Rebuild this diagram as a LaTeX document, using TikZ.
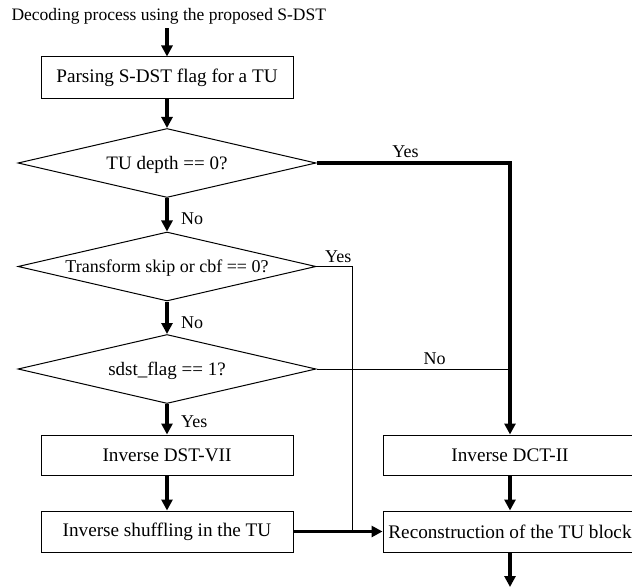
\documentclass[tikz,border=0pt]{standalone}
\usepackage{fontspec}
\setmainfont{Liberation Serif}
\usetikzlibrary{shapes.geometric,arrows.meta}
\begin{document}
\begin{tikzpicture}[x=1pt,y=-1pt,
  every node/.style={font=\fontsize{18}{21}\selectfont},
  procbox/.style={draw, line width=1pt, minimum width=252pt, inner sep=0pt, font=\fontsize{19.2}{22}\selectfont},
  decbox/.style={draw, diamond, aspect=4.3, minimum width=298pt, minimum height=69pt, inner sep=0pt, line width=1pt, text depth=0pt, font=\fontsize{19}{22}\selectfont},
  thk/.style={line width=3.5pt, -{Triangle[length=11pt,width=11pt]}},
  thn/.style={line width=1pt},
  lbl/.style={inner sep=3.33pt}
]
\useasboundingbox (0,0) rectangle (632,588);

\node[anchor=base west, font=\fontsize{17.5}{21}\selectfont] (title) at (8,21) {Decoding process using the proposed S-DST};
\node[procbox, minimum height=42pt] (p1) at (167,78) {Parsing S-DST flag for a TU};
\node[decbox] (d1) at (167,163) {TU depth == 0?};
\node[decbox, font=\fontsize{18}{21}\selectfont] (d2) at (167,266.5) {Transform skip or cbf == 0?};
\node[decbox] (d3) at (167,369) {sdst\_flag == 1?};
\node[procbox, minimum height=40pt] (dst) at (167,455) {Inverse DST-VII};
\node[procbox, minimum height=41pt] (shuf) at (167,531.5) {Inverse shuffling in the TU};
\node[procbox, minimum width=254pt, minimum height=40pt] (dct) at (510,455) {Inverse DCT-II};
\node[procbox, minimum width=254pt, minimum height=41pt] (rec) at (510,531.5) {Reconstruction of the TU block};
\coordinate (endpt) at (510,587);

\path (shuf.east) -- (rec.west) coordinate[pos=0.667] (j1);

\draw[thk] (title.south -| p1.north) -- (p1.north);
\draw[thk] (p1.south) -- (d1.north);
\draw[thk] (d1.south) -- node[lbl, right=9pt, pos=0.62]{No} (d2.north);
\draw[thk] (d2.south) -- node[lbl, right=9pt, pos=0.64]{No} (d3.north);
\draw[thk] (d3.south) -- node[lbl, right=9pt, pos=0.58]{Yes} (dst.north);
\draw[thk] (dst.south) -- (shuf.north);
\draw[thk] (shuf.east) -- (rec.west);
\draw[thk] (dct.south) -- (rec.north);
\draw[thk] (rec.south) -- (endpt);
\draw[thk] (d1.east) -- node[lbl, above, pos=0.46]{Yes} (d1.east -| dct.north) -- (dct.north);

\draw[thn] (d2.east) -- node[lbl, above, pos=0.6]{Yes} (d2.east -| j1) -- (j1);
\draw[thn] (d3.east) -- node[lbl, above, pos=0.61]{No} (d3.east -| dct.north);
\end{tikzpicture}
\end{document}
